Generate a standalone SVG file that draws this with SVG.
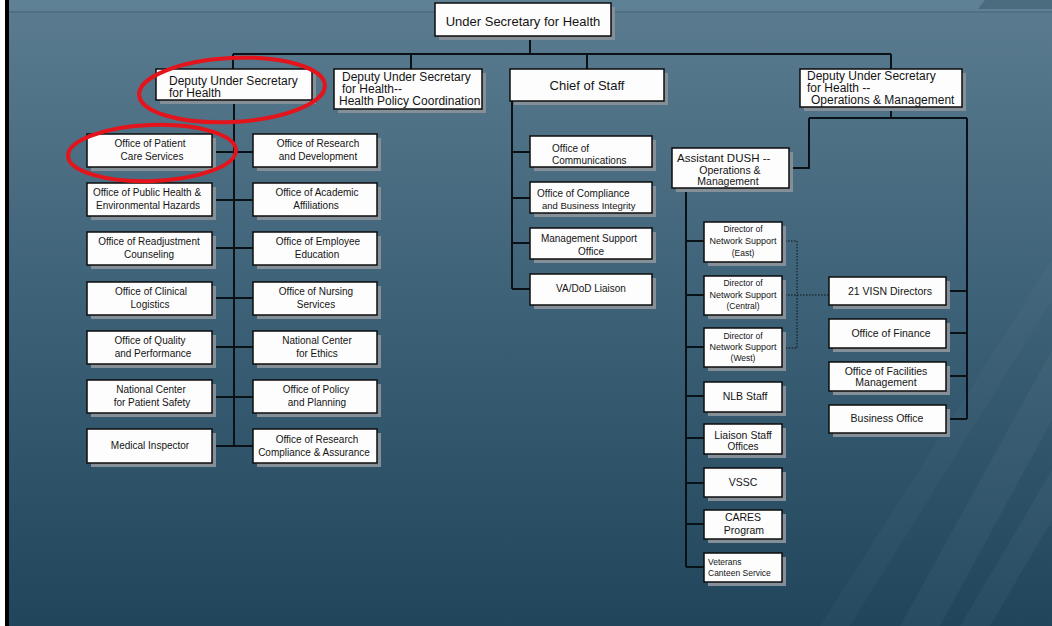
<svg xmlns="http://www.w3.org/2000/svg" width="1052" height="626" viewBox="0 0 1052 626">
<defs>
<linearGradient id="bg" x1="0" y1="0" x2="0" y2="1">
<stop offset="0" stop-color="#5b7c90"/>
<stop offset="0.45" stop-color="#3f6379"/>
<stop offset="1" stop-color="#21465c"/>
</linearGradient>
<style>
.sh{fill:#858f97}
.bx{fill:#fdfdfd;stroke:#0c0c0c;stroke-width:1.5}
.t{font-family:"Liberation Sans",Arial,sans-serif;fill:#141414;text-anchor:middle;font-size:10px}
.s{text-anchor:start}
.c12{font-size:12px}
.c13{font-size:13px}
.ln{stroke:#0a1218;stroke-width:2;fill:none}
.dt{stroke:#0a1218;stroke-width:1;stroke-dasharray:1.5 1.5;fill:none}
.red{fill:none;stroke:#e3141c;stroke-width:4}
</style>
</defs>
<rect x="0" y="0" width="1052" height="626" fill="url(#bg)"/>
<rect x="0" y="0" width="1052" height="11" fill="#5f8195"/>
<rect x="0" y="11" width="1052" height="2" fill="#4f6f83"/>
<polygon points="985,0 1052,0 1052,9 978,9" fill="#4b6b7f"/>
<polygon points="900,626 940,626 1052,420 1052,350" fill="#ffffff" opacity="0.035"/>
<polygon points="960,626 990,626 1052,520 1052,470" fill="#ffffff" opacity="0.035"/>
<polygon points="820,626 850,626 1052,300 1052,260" fill="#ffffff" opacity="0.025"/>
<rect x="0" y="0" width="5" height="626" fill="#ffffff"/>
<rect x="5" y="0" width="4" height="626" fill="#000000"/>

<g id="connectors">
<path class="ln" d="M530,36 V54 M233,54 H891 M233,54 V69 M411,54 V69 M587,54 V69 M891,54 V69"/>
<path class="ln" d="M234,100 V446 M212,152 H253 M212,200 H253 M212,248 H253 M212,298 H253 M212,347 H253 M212,397 H253 M212,446 H253"/>
<path class="ln" d="M512,101 V289 M512,152 H530 M512,198 H530 M512,243 H530 M512,289 H530"/>
<path class="ln" d="M891,107 V118 M809,118 H967 M809,118 V168 H789 M967,118 V419 M946,291 H967 M946,333 H967 M946,376 H967 M946,419 H967"/>
<path class="ln" d="M686,188 V567 M686,241 H704 M686,295 H704 M686,347 H704 M686,396 H704 M686,438 H704 M686,483 H704 M686,524 H704 M686,567 H704"/>
<path class="dt" d="M782,241 H797 V348 H782 M782,295 H829"/>
</g>

<g id="n-top"><rect class="sh" x="439" y="7" width="176" height="33"/><rect class="bx" x="435" y="3" width="176" height="33"/><text class="t c13" x="523" y="26">Under Secretary for Health</text></g>
<g id="n-dush"><rect class="sh" x="160" y="73" width="156" height="31"/><rect class="bx" x="156" y="69" width="156" height="31"/><text class="t c12 s" x="169" y="85">Deputy Under Secretary</text><text class="t c12 s" x="169" y="97">for Health</text></g>
<g id="n-hpc"><rect class="sh" x="338" y="73" width="148" height="40"/><rect class="bx" x="334" y="69" width="148" height="40"/><text class="t c12 s" x="342" y="81">Deputy Under Secretary</text><text class="t c12 s" x="342" y="93">for Health--</text><text class="t c12 s" x="339" y="105">Health Policy Coordination</text></g>
<g id="n-cos"><rect class="sh" x="514" y="73" width="154" height="32"/><rect class="bx" x="510" y="69" width="154" height="32"/><text class="t c13" x="587" y="90">Chief of Staff</text></g>
<g id="n-ops"><rect class="sh" x="804" y="73" width="162" height="38"/><rect class="bx" x="800" y="69" width="162" height="38"/><text class="t c12 s" x="807" y="80">Deputy Under Secretary</text><text class="t c12 s" x="807" y="92">for Health --</text><text class="t c12 s" x="811" y="104">Operations &amp; Management</text></g>

<g id="n-patient"><rect class="sh" x="91" y="138" width="125" height="33"/><rect class="bx" x="87" y="134" width="125" height="33"/><text class="t" x="150" y="146.5">Office of Patient</text><text class="t" x="152" y="159.5">Care Services</text></g>
<g id="n-research"><rect class="sh" x="257" y="138" width="124" height="33"/><rect class="bx" x="253" y="134" width="124" height="33"/><text class="t" x="318" y="146.5">Office of Research</text><text class="t" x="318" y="159.5">and Development</text></g>
<g id="n-publichealth"><rect class="sh" x="91" y="187" width="125" height="33"/><rect class="bx" x="87" y="183" width="125" height="33"/><text class="t" x="147" y="195.5">Office of Public Health &amp;</text><text class="t" x="148" y="208.5">Environmental Hazards</text></g>
<g id="n-academic"><rect class="sh" x="257" y="187" width="124" height="33"/><rect class="bx" x="253" y="183" width="124" height="33"/><text class="t" x="317" y="195.5">Office of Academic</text><text class="t" x="316" y="208.5">Affiliations</text></g>
<g id="n-readjust"><rect class="sh" x="91" y="236" width="125" height="33"/><rect class="bx" x="87" y="232" width="125" height="33"/><text class="t" x="149" y="244.5">Office of Readjustment</text><text class="t" x="149" y="257.5">Counseling</text></g>
<g id="n-employee"><rect class="sh" x="257" y="236" width="124" height="33"/><rect class="bx" x="253" y="232" width="124" height="33"/><text class="t" x="318" y="244.5">Office of Employee</text><text class="t" x="317" y="257.5">Education</text></g>
<g id="n-clinical"><rect class="sh" x="91" y="286" width="125" height="33"/><rect class="bx" x="87" y="282" width="125" height="33"/><text class="t" x="151" y="294.5">Office of Clinical</text><text class="t" x="150" y="307.5">Logistics</text></g>
<g id="n-nursing"><rect class="sh" x="257" y="286" width="124" height="33"/><rect class="bx" x="253" y="282" width="124" height="33"/><text class="t" x="316" y="294.5">Office of Nursing</text><text class="t" x="316" y="307.5">Services</text></g>
<g id="n-quality"><rect class="sh" x="91" y="335" width="125" height="33"/><rect class="bx" x="87" y="331" width="125" height="33"/><text class="t" x="150" y="343.5">Office of Quality</text><text class="t" x="153" y="356.5">and Performance</text></g>
<g id="n-ethics"><rect class="sh" x="257" y="335" width="124" height="33"/><rect class="bx" x="253" y="331" width="124" height="33"/><text class="t" x="317" y="343.5">National Center</text><text class="t" x="317" y="356.5">for Ethics</text></g>
<g id="n-safety"><rect class="sh" x="91" y="384" width="125" height="33"/><rect class="bx" x="87" y="380" width="125" height="33"/><text class="t" x="151" y="392.5">National Center</text><text class="t" x="152" y="405.5">for Patient Safety</text></g>
<g id="n-policy"><rect class="sh" x="257" y="384" width="124" height="33"/><rect class="bx" x="253" y="380" width="124" height="33"/><text class="t" x="316" y="392.5">Office of Policy</text><text class="t" x="317" y="405.5">and Planning</text></g>
<g id="n-medical"><rect class="sh" x="91" y="433" width="125" height="34"/><rect class="bx" x="87" y="429" width="125" height="34"/><text class="t" x="150" y="449">Medical Inspector</text></g>
<g id="n-rca"><rect class="sh" x="257" y="433" width="124" height="34"/><rect class="bx" x="253" y="429" width="124" height="34"/><text class="t" x="317" y="442.5">Office of Research</text><text class="t" x="314" y="455.5">Compliance &amp; Assurance</text></g>

<g id="n-comm"><rect class="sh" x="534" y="140" width="122" height="31"/><rect class="bx" x="530" y="136" width="122" height="31"/><text class="t s" x="552" y="151.5">Office of</text><text class="t s" x="552" y="163.5">Communications</text></g>
<g id="n-compliance"><rect class="sh" x="534" y="186" width="122" height="31"/><rect class="bx" x="530" y="182" width="122" height="31"/><text class="t s" x="537" y="196.5">Office of Compliance</text><text class="t s" x="542" y="208.5" style="font-size:9.5px">and Business Integrity</text></g>
<g id="n-mso"><rect class="sh" x="534" y="232" width="122" height="31"/><rect class="bx" x="530" y="228" width="122" height="31"/><text class="t" x="589" y="241.5">Management Support</text><text class="t" x="591" y="254.5">Office</text></g>
<g id="n-vadod"><rect class="sh" x="534" y="278" width="122" height="31"/><rect class="bx" x="530" y="274" width="122" height="31"/><text class="t" x="591" y="292">VA/DoD Liaison</text></g>

<g id="n-adush"><rect class="sh" x="676" y="152" width="117" height="40"/><rect class="bx" x="672" y="148" width="117" height="40"/><text class="t s" x="677" y="162" style="font-size:11.5px">Assistant DUSH --</text><text class="t" x="730" y="174" style="font-size:10.5px">Operations &amp;</text><text class="t" x="728" y="185" style="font-size:10.5px">Management</text></g>
<g id="n-east"><rect class="sh" x="708" y="226" width="78" height="40"/><rect class="bx" x="704" y="222" width="78" height="40"/><text class="t" x="743" y="232" style="font-size:8.5px">Director of</text><text class="t" x="743" y="244" style="font-size:9px">Network Support</text><text class="t" x="743" y="256" style="font-size:8.5px">(East)</text></g>
<g id="n-central"><rect class="sh" x="708" y="280" width="78" height="39"/><rect class="bx" x="704" y="276" width="78" height="39"/><text class="t" x="743" y="286" style="font-size:8.5px">Director of</text><text class="t" x="743" y="298" style="font-size:9px">Network Support</text><text class="t" x="743" y="309" style="font-size:8.5px">(Central)</text></g>
<g id="n-west"><rect class="sh" x="708" y="332" width="78" height="39"/><rect class="bx" x="704" y="328" width="78" height="39"/><text class="t" x="743" y="339" style="font-size:8.5px">Director of</text><text class="t" x="743" y="350" style="font-size:9px">Network Support</text><text class="t" x="743" y="361" style="font-size:8.5px">(West)</text></g>
<g id="n-nlb"><rect class="sh" x="708" y="386" width="78" height="30"/><rect class="bx" x="704" y="382" width="78" height="30"/><text class="t" x="745" y="400" style="font-size:10.5px">NLB Staff</text></g>
<g id="n-liaison"><rect class="sh" x="708" y="428" width="78" height="30"/><rect class="bx" x="704" y="424" width="78" height="30"/><text class="t" x="743" y="438.5" style="font-size:10.5px">Liaison Staff</text><text class="t" x="743" y="449.5">Offices</text></g>
<g id="n-vssc"><rect class="sh" x="708" y="472" width="78" height="29"/><rect class="bx" x="704" y="468" width="78" height="29"/><text class="t" x="743" y="486" style="font-size:10.5px">VSSC</text></g>
<g id="n-cares"><rect class="sh" x="708" y="514" width="78" height="29"/><rect class="bx" x="704" y="510" width="78" height="29"/><text class="t" x="743" y="520.5" style="font-size:10.5px">CARES</text><text class="t" x="744" y="533.5" style="font-size:10.5px">Program</text></g>
<g id="n-canteen"><rect class="sh" x="708" y="557" width="78" height="29"/><rect class="bx" x="704" y="553" width="78" height="29"/><text class="t s" x="708" y="565" style="font-size:8.5px">Veterans</text><text class="t s" x="708" y="576" style="font-size:8.5px">Canteen Service</text></g>

<g id="n-visn"><rect class="sh" x="833" y="281" width="117" height="28"/><rect class="bx" x="829" y="277" width="117" height="28"/><text class="t" x="890" y="294.5" style="font-size:10.5px">21 VISN Directors</text></g>
<g id="n-finance"><rect class="sh" x="833" y="323" width="117" height="29"/><rect class="bx" x="829" y="319" width="117" height="29"/><text class="t" x="891" y="337" style="font-size:10.5px">Office of Finance</text></g>
<g id="n-facilities"><rect class="sh" x="833" y="366" width="117" height="29"/><rect class="bx" x="829" y="362" width="117" height="29"/><text class="t" x="886" y="374.5" style="font-size:10.5px">Office of Facilities</text><text class="t" x="886" y="385.5" style="font-size:10.5px">Management</text></g>
<g id="n-business"><rect class="sh" x="833" y="409" width="117" height="28"/><rect class="bx" x="829" y="405" width="117" height="28"/><text class="t" x="887" y="422" style="font-size:10.5px">Business Office</text></g>

<g id="highlights">
<ellipse class="red" cx="232" cy="90" rx="93" ry="32" transform="rotate(-3 232 90)"/>
<ellipse class="red" cx="152" cy="153" rx="84" ry="28" transform="rotate(-2 152 153)"/>
</g>
</svg>
